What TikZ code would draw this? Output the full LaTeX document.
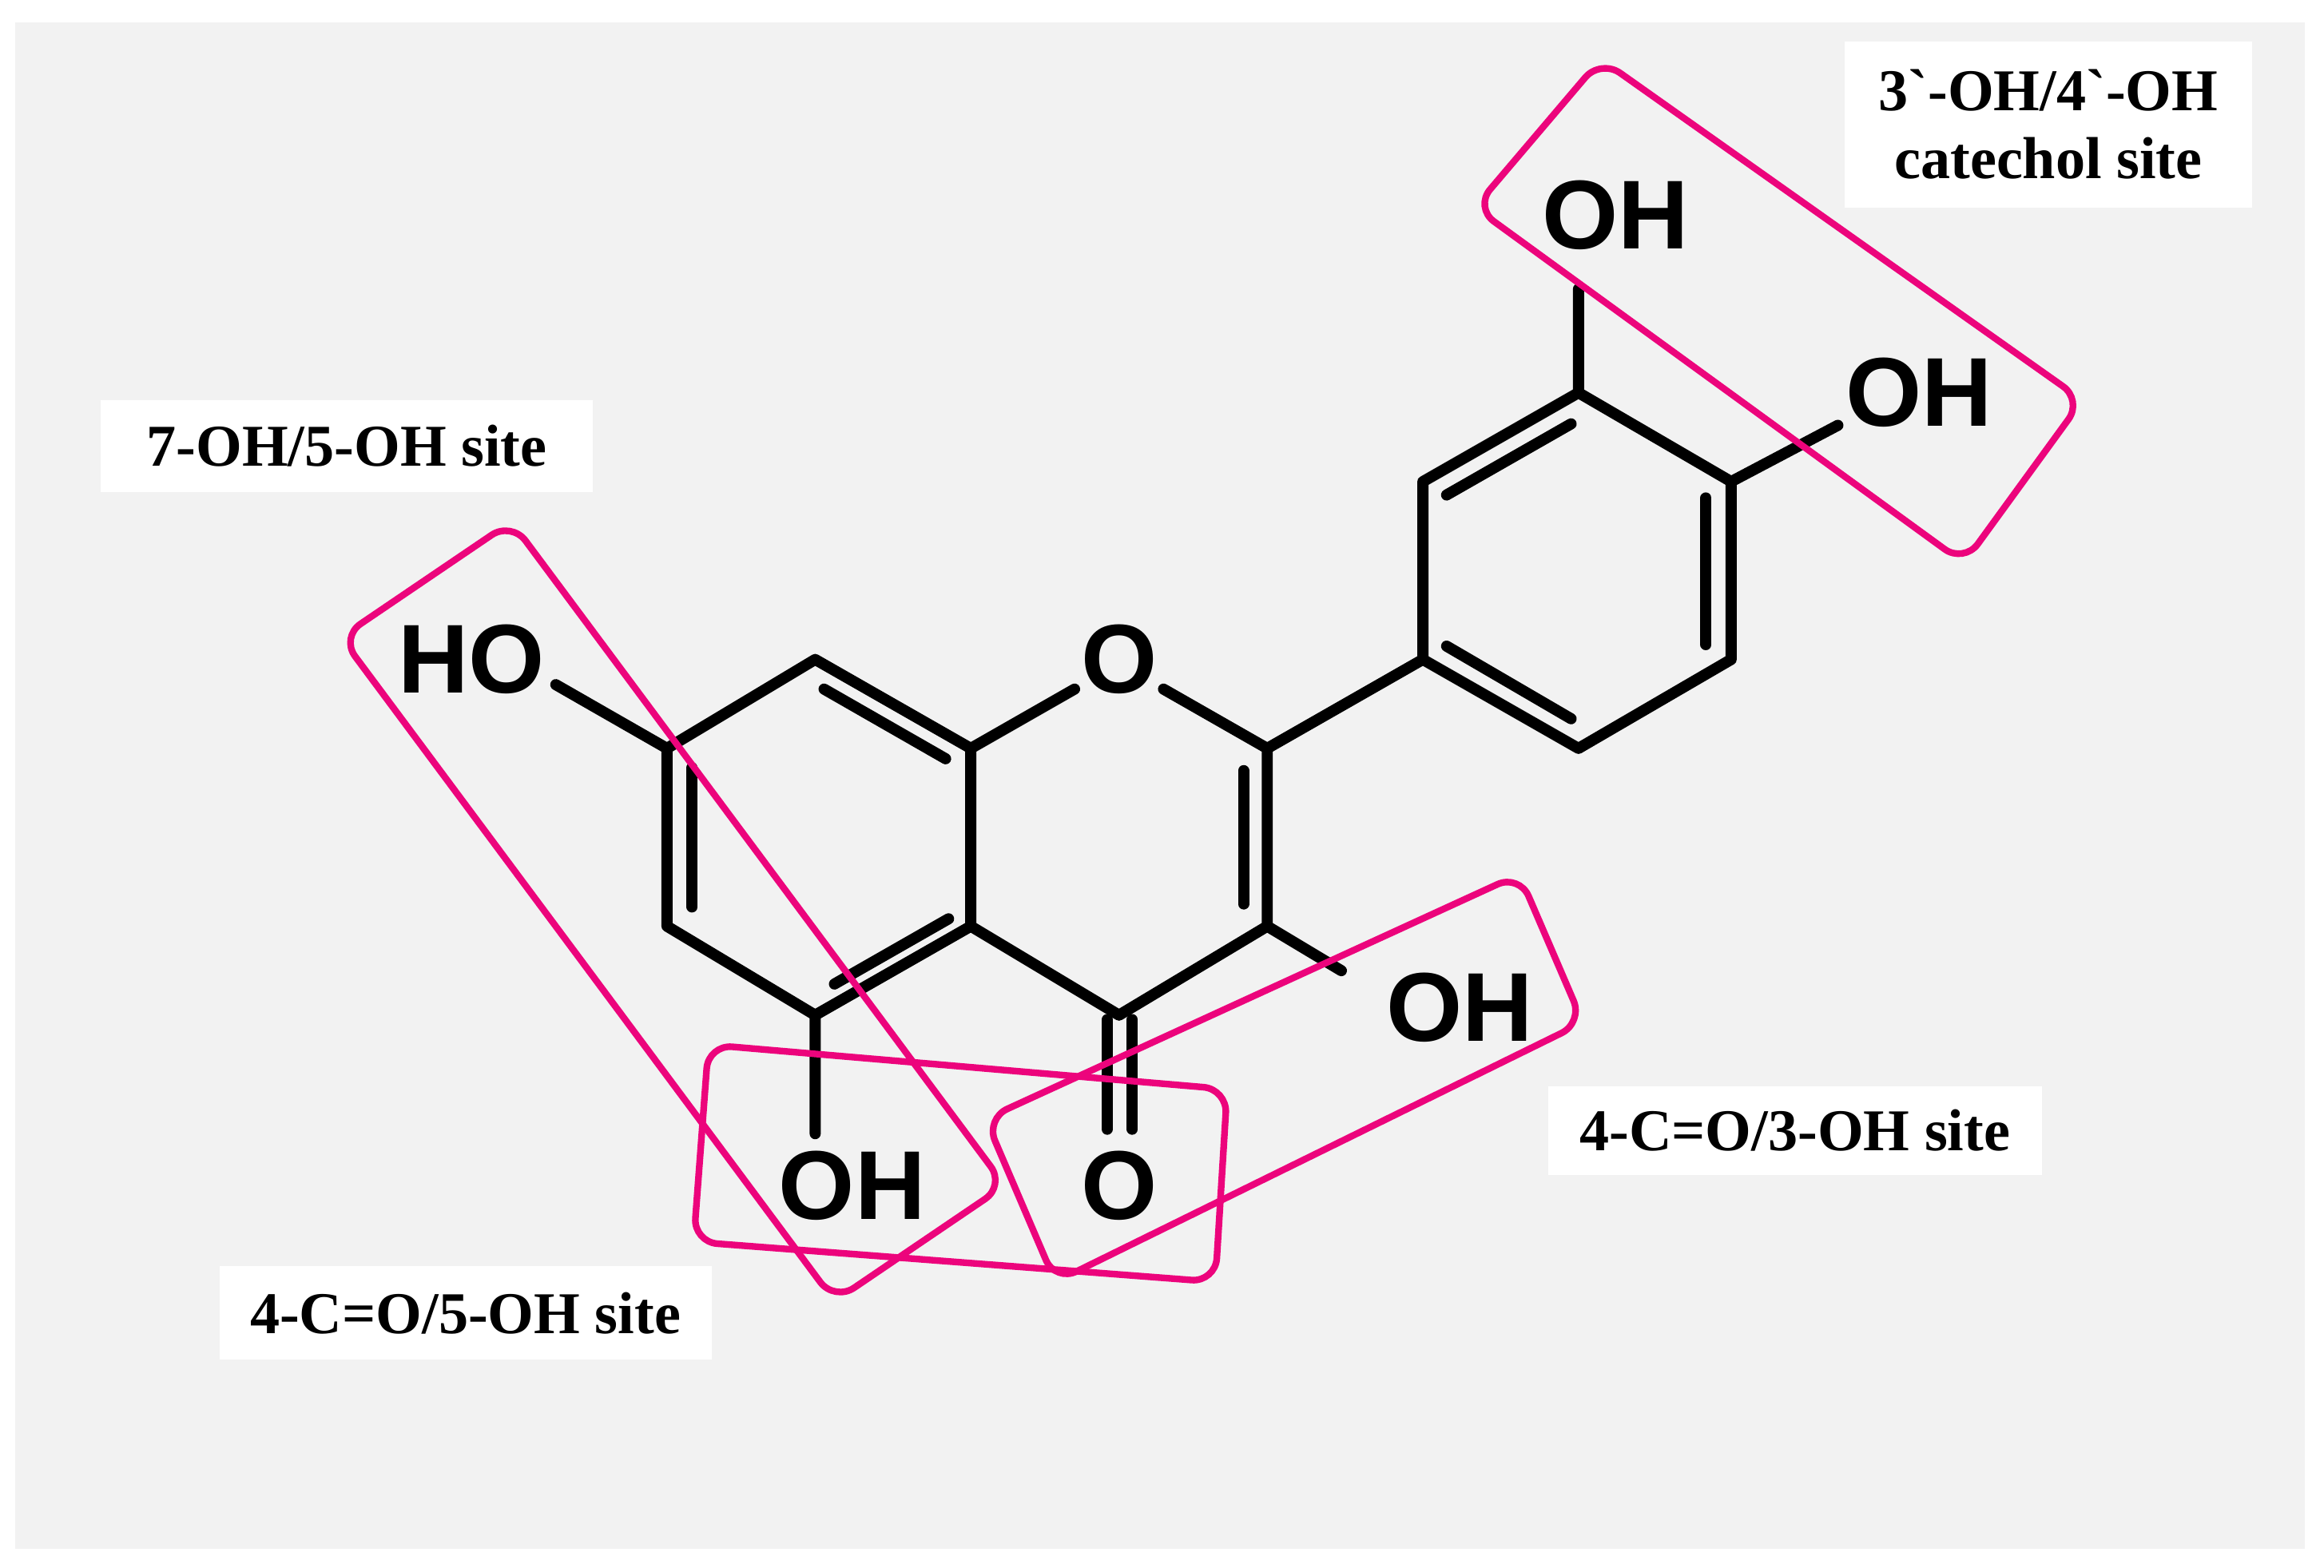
\documentclass[tikz,border=0pt]{standalone}
\usepackage{fontspec}
\setmainfont{Liberation Serif}
\newfontfamily\atomfont{Liberation Sans}
\begin{document}
\begin{tikzpicture}[x=1pt,y=-1pt,
  bond/.style={line width=7.5pt,line cap=round,line join=round},
  site/.style={draw=magenta!85!red,line width=4.5pt,rounded corners=16pt},
  lab/.style={fill=white,font=\fontsize{40}{46}\selectfont\bfseries,inner sep=0pt,align=center},
  atom/.style={font=\atomfont\fontsize{66}{66}\selectfont\bfseries,inner sep=0pt}]
\fill[white] (0,0) rectangle (1568,1058);
\fill[black!5] (10,15) rectangle (1555,1045);
\useasboundingbox (0,0) rectangle (1568,1058);
\coordinate (c8) at (550,445);
\coordinate (c8a) at (655,505);
\coordinate (c4a) at (655,625);
\coordinate (c5) at (550,685);
\coordinate (c6) at (450,625);
\coordinate (c7) at (450,505);
\coordinate (c2) at (855,505);
\coordinate (c3) at (855,625);
\coordinate (c4) at (755,685);
\coordinate (b1) at (960,445);
\coordinate (b2) at (960,325);
\coordinate (b3) at (1065,265);
\coordinate (b4) at (1168,325);
\coordinate (b5) at (1168,445);
\coordinate (b6) at (1065,505);
\coordinate (o5b) at (550,765);
\coordinate (o3b) at (905,655);
\coordinate (o7b) at (375,462);
\coordinate (o3pb) at (1065,195);
\coordinate (o4pb) at (1240,287);
% bonds
\draw[bond] (c7)--(c8)--(c8a)--(c4a)--(c5)--(c6)--cycle;
\draw[bond] (c8a)--(725,465) (785,465)--(c2)--(c3)--(c4)--(c4a);
\draw[bond] (c2)--(b1);
\draw[bond] (b1)--(b2)--(b3)--(b4)--(b5)--(b6)--cycle;
\draw[bond] (c7)--(o7b) (c5)--(o5b) (c3)--(o3b) (b3)--(o3pb) (b4)--(o4pb);
\draw[bond] (747,688)--(747,762) (764,688)--(764,762);
% inner double bonds
\draw[bond] (556,465)--(638,512);
\draw[bond] (467,518)--(467,612);
\draw[bond] (563,664)--(640,620);
\draw[bond] (839,520)--(839,610);
\draw[bond] (976,334)--(1060,286);
\draw[bond] (1151,336)--(1151,435);
\draw[bond] (976,436)--(1060,485);
% atom labels
\node[atom] (O1) at (755,445) {O};
\node[atom] (HO7) at (318,445) {HO};
\node[atom] (OH5) at (575,800) {OH};
\node[atom] (O4) at (755,800) {O};
\node[atom] (OH3) at (985,680) {OH};
\node[atom] (OH3p) at (1090,145) {OH};
\node[atom] (OH4p) at (1295,265) {OH};
% site boxes
\draw[site] (230,430)--(345,352)--(678,800)--(563,878)--cycle;
\draw[site] (478,705)--(828,735)--(820,865)--(468,838)--cycle;
\draw[site] (665,755)--(1025,590)--(1068,690)--(712,865)--cycle;
\draw[site] (995,140)--(1080,40)--(1405,270)--(1325,380)--cycle;
% labels
\node[lab,minimum width=332pt,minimum height=62pt] (L1) at (234,301) {7-OH/5-OH site};
\node[lab,minimum width=275pt,minimum height=112pt] (L2) at (1382,84) {3\textasciigrave-OH/4\textasciigrave-OH\\catechol site};
\node[lab,minimum width=333pt,minimum height=60pt] (L3) at (1211,763) {4-C=O/3-OH site};
\node[lab,minimum width=332pt,minimum height=63pt] (L4) at (314,886) {4-C=O/5-OH site};
\end{tikzpicture}
\end{document}
